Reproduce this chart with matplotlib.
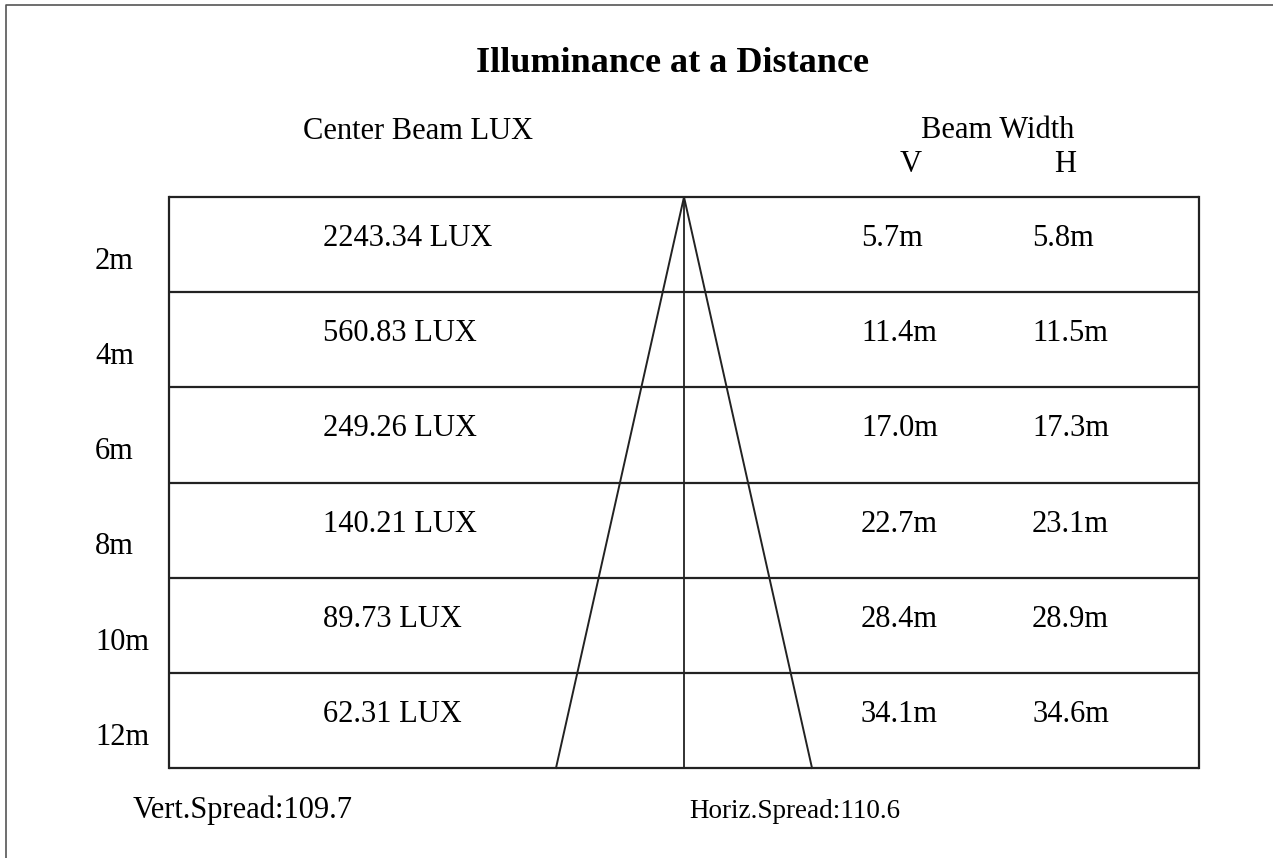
import matplotlib.pyplot as plt
from matplotlib.lines import Line2D

plt.rcParams['font.family'] = ['Liberation Serif', 'DejaVu Serif']

# values
distances = ['2m', '4m', '6m', '8m', '10m', '12m']
lux = [2243.34, 560.83, 249.26, 140.21, 89.73, 62.31]
width_v = [5.7, 11.4, 17.0, 22.7, 28.4, 34.1]
width_h = [5.8, 11.5, 17.3, 23.1, 28.9, 34.6]
vert_spread = 109.7
horiz_spread = 110.6

W, H = 1273, 858
fig = plt.figure(figsize=(W / 100, H / 100), dpi=100)
ax = fig.add_axes([0, 0, 1, 1])
ax.set_xlim(0, W)
ax.set_ylim(H, 0)
ax.axis('off')

# layout of the table (pixel units)
left, right = 169, 1199
top, bottom = 197, 768
mid = 684
n = len(distances)
row_h = (bottom - top) / n
base_half = 128
lc = '#222222'

# frame of the picture (only top and left edges visible)
ax.add_line(Line2D([6, 6, W], [H, 5, 5], color='#555555', lw=1.2))

# table rows
for i in range(n + 1):
    y = top + i * row_h
    ax.plot([left, right], [y, y], color=lc, lw=1.6, solid_capstyle='butt')
ax.plot([left, left], [top, bottom], color=lc, lw=1.6)
ax.plot([right, right], [top, bottom], color=lc, lw=1.6)
ax.plot([mid, mid], [top, bottom], color=lc, lw=1.3)

# beam triangle
ax.plot([mid - base_half, mid, mid + base_half], [bottom, top, bottom], color=lc, lw=1.4)

fs = 22
ax.text(673, 72, 'Illuminance at a Distance', fontsize=26, fontweight='bold',
        ha='center', va='baseline')
ax.text(418, 139, 'Center Beam LUX', fontsize=fs, ha='center', va='baseline')
ax.text(998, 138, 'Beam Width', fontsize=fs, ha='center', va='baseline')
ax.text(911, 172, 'V', fontsize=fs, ha='center', va='baseline')
ax.text(1065, 172, 'H', fontsize=fs, ha='center', va='baseline')

for i in range(n):
    y0 = top + i * row_h
    ax.text(95, y0 + 72, distances[i], fontsize=fs, ha='left', va='baseline')
    ax.text(323, y0 + 49, f'{lux[i]:.2f} LUX', fontsize=fs, ha='left', va='baseline')
    ax.text(861, y0 + 49, f'{width_v[i]:.1f}m', fontsize=fs, ha='left', va='baseline')
    ax.text(1032, y0 + 49, f'{width_h[i]:.1f}m', fontsize=fs, ha='left', va='baseline')

ax.text(133, 818, f'Vert.Spread:{vert_spread}', fontsize=fs, ha='left', va='baseline')
ax.text(795, 818, f'Horiz.Spread:{horiz_spread}', fontsize=19.5, ha='center', va='baseline')

fig.savefig('out.png', dpi=100, facecolor='white')
